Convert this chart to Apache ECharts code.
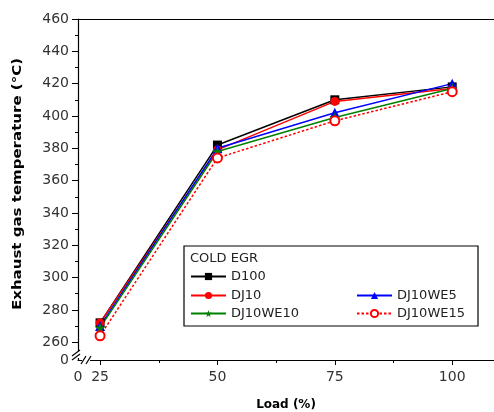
<!DOCTYPE html>
<html><head><meta charset="utf-8">
<script src="https://cdn.jsdelivr.net/npm/echarts@6/dist/echarts.min.js"></script>
<style>html,body{margin:0;padding:0;background:#fff}#c{width:494px;height:412px}</style>
</head><body><div id="c"></div>
<script>
const loads = [25, 50, 75, 100];
const D100 = [272, 382, 410, 418];
const DJ10 = [272, 379, 409, 417];
const DJ10WE5 = [270, 380, 402, 420];
const DJ10WE10 = [269, 378, 399, 417];
const DJ10WE15 = [264, 374, 397, 415];
const xTickLabels = [25, 50, 75, 100];
const yTickLabels = [260, 280, 300, 320, 340, 360, 380, 400, 420, 440, 460];
const yMinor = [270, 290, 310, 330, 350, 370, 390, 410, 430, 450];
const xMinor = [37.5, 62.5, 87.5];
const yTitle = 'Exhaust gas temperature (°C)';
const xTitle = 'Load (%)';

const XMIN = 20.3, XMAX = 108.9, YMIN = 249, YMAX = 460;
const FONT = 'DejaVu Sans';
const chart = echarts.init(document.getElementById('c'), null, {renderer: 'canvas'});

const pair = (ys) => loads.map((x, i) => [x, ys[i]]);
function line(name, ys, color, symbol, dashed) {
  return {
    name, type: 'line', data: pair(ys), xAxisIndex: 0, yAxisIndex: 0,
    symbol, symbolSize: symbol === 'triangle' ? 10 : (symbol === 'rect' ? 9 : (symbol.startsWith('path') ? 11 : 9)),
    showSymbol: true,
    lineStyle: {color, width: 1.5, type: dashed ? [2.5, 2] : 'solid'},
    itemStyle: {color, borderColor: color, borderWidth: symbol === 'emptyCircle' ? 1.5 : 0},
    emphasis: {disabled: true}, animation: false
  };
}
const legendBase = (name, left, top) => ({
  data: [name], left, top, itemWidth: 35, itemHeight: 9, orient: 'horizontal',
  textStyle: {fontFamily: FONT, fontSize: 13, color: '#222'}, padding: 0, selectedMode: false
});

chart.setOption({
  animation: false,
  grid: {left: 78, right: 0, top: 19, bottom: 52, containLabel: false, outerBoundsMode: 'none'},
  xAxis: [
    {type: 'value', min: XMIN, max: XMAX, position: 'bottom',
     axisLine: {show: true, lineStyle: {color: '#000', width: 1.2}},
     axisTick: {show: true, length: 5, inside: false, customValues: xTickLabels, lineStyle: {color: '#000'}},
     axisLabel: {show: true, customValues: [XMIN].concat(xTickLabels), showMinLabel: true, showMaxLabel: true,
       formatter: v => (v < 24 ? '0' : String(v)), fontFamily: FONT, fontSize: 14, color: '#333', margin: 10},
     splitLine: {show: false},
     name: xTitle, nameLocation: 'middle', nameGap: 39,
     nameTextStyle: {fontFamily: FONT, fontSize: 12, fontWeight: 'bold', color: '#000'}},
    {type: 'value', min: XMIN, max: XMAX, position: 'bottom',
     axisLine: {show: false}, axisTick: {show: true, length: 3, customValues: xMinor, lineStyle: {color: '#000'}},
     axisLabel: {show: false}, splitLine: {show: false}},
    {type: 'value', min: XMIN, max: XMAX, position: 'top',
     axisLine: {show: true, lineStyle: {color: '#000', width: 1.2}}, axisTick: {show: false},
     axisLabel: {show: false}, splitLine: {show: false}}
  ],
  yAxis: [
    {type: 'value', min: YMIN, max: YMAX, position: 'left',
     axisLine: {show: true, lineStyle: {color: '#000', width: 1.2}},
     axisTick: {show: true, length: 6, customValues: yTickLabels, lineStyle: {color: '#000'}},
     axisLabel: {show: true, customValues: [YMIN].concat(yTickLabels), showMinLabel: true, showMaxLabel: true,
       formatter: v => (v < 255 ? '0' : String(v)), fontFamily: FONT, fontSize: 14, color: '#333', margin: 9},
     splitLine: {show: false}},
    {type: 'value', min: YMIN, max: YMAX, position: 'left',
     axisLine: {show: false}, axisTick: {show: true, length: 3, customValues: yMinor, lineStyle: {color: '#000'}},
     axisLabel: {show: false}, splitLine: {show: false}}
  ],
  legend: [
    legendBase('D100', 190, 270),
    legendBase('DJ10', 190, 289),
    legendBase('DJ10WE5', 356, 289),
    legendBase('DJ10WE10', 190, 307),
    legendBase('DJ10WE15', 356, 307)
  ],
  series: [
    line('D100', D100, '#000000', 'rect', false),
    line('DJ10', DJ10, '#ff0000', 'circle', false),
    line('DJ10WE5', DJ10WE5, '#0000ff', 'triangle', false),
    line('DJ10WE10', DJ10WE10, '#008000', 'path://M50,0 L61,35 L98,35 L68,57 L79,91 L50,70 L21,91 L32,57 L2,35 L39,35 Z', false),
    line('DJ10WE15', DJ10WE15, '#ff0000', 'emptyCircle', true)
  ],
  graphic: [
    {type: 'text', x: 18, y: 184, rotation: Math.PI / 2, scaleX: 1.25,
     style: {text: yTitle, fontFamily: FONT, fontSize: 12, fontWeight: 'bold', fill: '#000', align: 'center', verticalAlign: 'middle'}, z: 10},
    {type: 'rect', shape: {x: 184, y: 246, width: 294, height: 80}, style: {fill: 'none', stroke: '#000', lineWidth: 1.2}, z: 10},
    {type: 'text', x: 190, y: 252, style: {text: 'COLD EGR', fontFamily: FONT, fontSize: 13, fill: '#222'}, z: 10},
    {type: 'rect', shape: {x: 74, y: 351, width: 8, height: 7}, style: {fill: '#fff'}, z: 20},
    {type: 'line', shape: {x1: 72, y1: 356, x2: 80, y2: 350}, style: {stroke: '#000', lineWidth: 1.2}, z: 21},
    {type: 'line', shape: {x1: 72, y1: 360, x2: 80, y2: 354}, style: {stroke: '#000', lineWidth: 1.2}, z: 21},
    {type: 'rect', shape: {x: 82, y: 357, width: 8, height: 6}, style: {fill: '#fff'}, z: 20},
    {type: 'line', shape: {x1: 81, y1: 364, x2: 86, y2: 356}, style: {stroke: '#000', lineWidth: 1.2}, z: 21},
    {type: 'line', shape: {x1: 86, y1: 364, x2: 91, y2: 356}, style: {stroke: '#000', lineWidth: 1.2}, z: 21}
  ]
});
</script></body></html>
